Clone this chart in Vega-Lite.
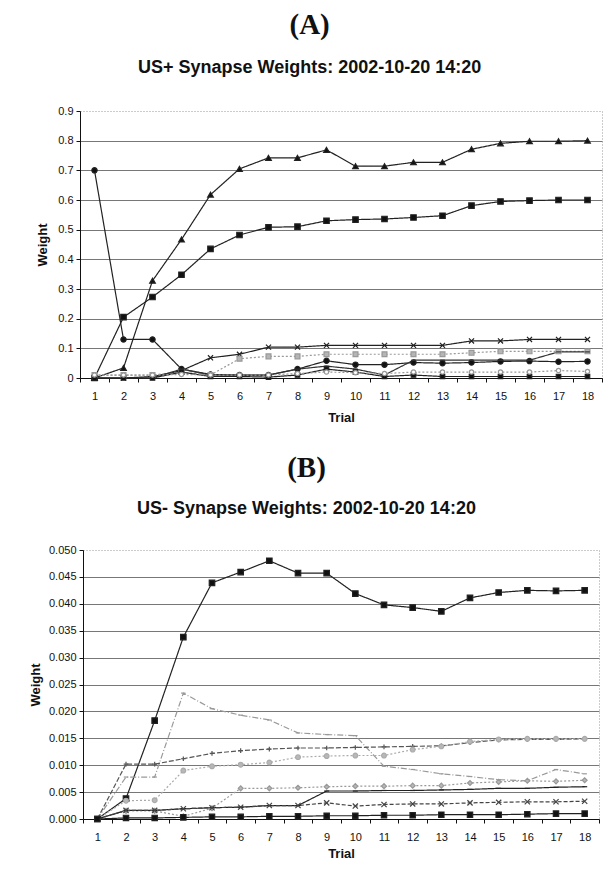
{
  "$schema": "https://vega.github.io/schema/vega-lite/v6.json",
  "background": "white",
  "padding": {"left": 28, "top": 10, "right": 0, "bottom": 0},
  "spacing": 28,
  "center": true,
  "bounds": "full",
  "resolve": {"scale": {"stroke": "independent", "strokeDash": "independent", "shape": "independent", "fill": "independent", "size": "independent"}},
  "config": {
    "font": "Liberation Sans",
    "view": {"stroke": "#999", "strokeDash": [1, 2], "strokeWidth": 1},
    "legend": {"disable": true},
    "axis": {
      "labelFont": "Liberation Sans", "labelFontSize": 11, "labelColor": "#111",
      "titleFont": "Liberation Sans", "titleFontSize": 13, "titleFontWeight": "bold", "titleColor": "#111",
      "domainColor": "#111", "tickColor": "#111", "tickSize": 4
    }
  },
  "datasets": {
    "a": [
      {"s":"tri","t":1,"w":0},{"s":"tri","t":2,"w":0.034},{"s":"tri","t":3,"w":0.328},{"s":"tri","t":4,"w":0.467},{"s":"tri","t":5,"w":0.618},{"s":"tri","t":6,"w":0.705},{"s":"tri","t":7,"w":0.742},{"s":"tri","t":8,"w":0.742},{"s":"tri","t":9,"w":0.769},{"s":"tri","t":10,"w":0.714},{"s":"tri","t":11,"w":0.714},{"s":"tri","t":12,"w":0.727},{"s":"tri","t":13,"w":0.727},{"s":"tri","t":14,"w":0.771},{"s":"tri","t":15,"w":0.791},{"s":"tri","t":16,"w":0.798},{"s":"tri","t":17,"w":0.798},{"s":"tri","t":18,"w":0.8},
      {"s":"sq","t":1,"w":0},{"s":"sq","t":2,"w":0.205},{"s":"sq","t":3,"w":0.273},{"s":"sq","t":4,"w":0.348},{"s":"sq","t":5,"w":0.435},{"s":"sq","t":6,"w":0.482},{"s":"sq","t":7,"w":0.508},{"s":"sq","t":8,"w":0.51},{"s":"sq","t":9,"w":0.53},{"s":"sq","t":10,"w":0.534},{"s":"sq","t":11,"w":0.536},{"s":"sq","t":12,"w":0.541},{"s":"sq","t":13,"w":0.547},{"s":"sq","t":14,"w":0.581},{"s":"sq","t":15,"w":0.595},{"s":"sq","t":16,"w":0.598},{"s":"sq","t":17,"w":0.6},{"s":"sq","t":18,"w":0.6},
      {"s":"dot","t":1,"w":0.7},{"s":"dot","t":2,"w":0.13},{"s":"dot","t":3,"w":0.13},{"s":"dot","t":4,"w":0.03},{"s":"dot","t":5,"w":0.012},{"s":"dot","t":6,"w":0.01},{"s":"dot","t":7,"w":0.01},{"s":"dot","t":8,"w":0.03},{"s":"dot","t":9,"w":0.058},{"s":"dot","t":10,"w":0.045},{"s":"dot","t":11,"w":0.045},{"s":"dot","t":12,"w":0.052},{"s":"dot","t":13,"w":0.05},{"s":"dot","t":14,"w":0.052},{"s":"dot","t":15,"w":0.056},{"s":"dot","t":16,"w":0.057},{"s":"dot","t":17,"w":0.055},{"s":"dot","t":18,"w":0.056},
      {"s":"x","t":1,"w":0},{"s":"x","t":2,"w":0},{"s":"x","t":3,"w":0.005},{"s":"x","t":4,"w":0.025},{"s":"x","t":5,"w":0.068},{"s":"x","t":6,"w":0.08},{"s":"x","t":7,"w":0.104},{"s":"x","t":8,"w":0.104},{"s":"x","t":9,"w":0.11},{"s":"x","t":10,"w":0.11},{"s":"x","t":11,"w":0.11},{"s":"x","t":12,"w":0.11},{"s":"x","t":13,"w":0.11},{"s":"x","t":14,"w":0.125},{"s":"x","t":15,"w":0.125},{"s":"x","t":16,"w":0.13},{"s":"x","t":17,"w":0.13},{"s":"x","t":18,"w":0.13},
      {"s":"hsq","t":1,"w":0.01},{"s":"hsq","t":2,"w":0.01},{"s":"hsq","t":3,"w":0.01},{"s":"hsq","t":4,"w":0.02},{"s":"hsq","t":5,"w":0.01},{"s":"hsq","t":6,"w":0.065},{"s":"hsq","t":7,"w":0.073},{"s":"hsq","t":8,"w":0.073},{"s":"hsq","t":9,"w":0.08},{"s":"hsq","t":10,"w":0.08},{"s":"hsq","t":11,"w":0.08},{"s":"hsq","t":12,"w":0.08},{"s":"hsq","t":13,"w":0.08},{"s":"hsq","t":14,"w":0.085},{"s":"hsq","t":15,"w":0.09},{"s":"hsq","t":16,"w":0.09},{"s":"hsq","t":17,"w":0.09},{"s":"hsq","t":18,"w":0.09},
      {"s":"rise","t":1,"w":0},{"s":"rise","t":2,"w":0},{"s":"rise","t":3,"w":0},{"s":"rise","t":4,"w":0.03},{"s":"rise","t":5,"w":0.01},{"s":"rise","t":6,"w":0.01},{"s":"rise","t":7,"w":0.01},{"s":"rise","t":8,"w":0.03},{"s":"rise","t":9,"w":0.04},{"s":"rise","t":10,"w":0.03},{"s":"rise","t":11,"w":0.01},{"s":"rise","t":12,"w":0.06},{"s":"rise","t":13,"w":0.06},{"s":"rise","t":14,"w":0.06},{"s":"rise","t":15,"w":0.06},{"s":"rise","t":16,"w":0.06},{"s":"rise","t":17,"w":0.088},{"s":"rise","t":18,"w":0.088},
      {"s":"bot","t":1,"w":0},{"s":"bot","t":2,"w":0},{"s":"bot","t":3,"w":0},{"s":"bot","t":4,"w":0.02},{"s":"bot","t":5,"w":0.005},{"s":"bot","t":6,"w":0.005},{"s":"bot","t":7,"w":0.003},{"s":"bot","t":8,"w":0.01},{"s":"bot","t":9,"w":0.03},{"s":"bot","t":10,"w":0.02},{"s":"bot","t":11,"w":0.005},{"s":"bot","t":12,"w":0.01},{"s":"bot","t":13,"w":0.005},{"s":"bot","t":14,"w":0.005},{"s":"bot","t":15,"w":0.005},{"s":"bot","t":16,"w":0.005},{"s":"bot","t":17,"w":0.005},{"s":"bot","t":18,"w":0.005},
      {"s":"oc","t":1,"w":0.01},{"s":"oc","t":2,"w":0.01},{"s":"oc","t":3,"w":0.01},{"s":"oc","t":4,"w":0.012},{"s":"oc","t":5,"w":0.01},{"s":"oc","t":6,"w":0.01},{"s":"oc","t":7,"w":0.01},{"s":"oc","t":8,"w":0.015},{"s":"oc","t":9,"w":0.02},{"s":"oc","t":10,"w":0.018},{"s":"oc","t":11,"w":0.015},{"s":"oc","t":12,"w":0.02},{"s":"oc","t":13,"w":0.02},{"s":"oc","t":14,"w":0.02},{"s":"oc","t":15,"w":0.02},{"s":"oc","t":16,"w":0.02},{"s":"oc","t":17,"w":0.025},{"s":"oc","t":18,"w":0.022}
    ],
    "b": [
      {"s":"bsq","t":1,"w":0},{"s":"bsq","t":2,"w":0.0038},{"s":"bsq","t":3,"w":0.0183},{"s":"bsq","t":4,"w":0.0338},{"s":"bsq","t":5,"w":0.0439},{"s":"bsq","t":6,"w":0.0459},{"s":"bsq","t":7,"w":0.048},{"s":"bsq","t":8,"w":0.0457},{"s":"bsq","t":9,"w":0.0457},{"s":"bsq","t":10,"w":0.0419},{"s":"bsq","t":11,"w":0.0398},{"s":"bsq","t":12,"w":0.0393},{"s":"bsq","t":13,"w":0.0386},{"s":"bsq","t":14,"w":0.0411},{"s":"bsq","t":15,"w":0.0421},{"s":"bsq","t":16,"w":0.0425},{"s":"bsq","t":17,"w":0.0424},{"s":"bsq","t":18,"w":0.0425},
      {"s":"dd","t":1,"w":0},{"s":"dd","t":2,"w":0.0078},{"s":"dd","t":3,"w":0.0078},{"s":"dd","t":4,"w":0.0234},{"s":"dd","t":5,"w":0.0205},{"s":"dd","t":6,"w":0.0193},{"s":"dd","t":7,"w":0.0184},{"s":"dd","t":8,"w":0.016},{"s":"dd","t":9,"w":0.0157},{"s":"dd","t":10,"w":0.0155},{"s":"dd","t":11,"w":0.0098},{"s":"dd","t":12,"w":0.0092},{"s":"dd","t":13,"w":0.0084},{"s":"dd","t":14,"w":0.0079},{"s":"dd","t":15,"w":0.0073},{"s":"dd","t":16,"w":0.0071},{"s":"dd","t":17,"w":0.0092},{"s":"dd","t":18,"w":0.0084},
      {"s":"plus","t":1,"w":0},{"s":"plus","t":2,"w":0.0102},{"s":"plus","t":3,"w":0.0102},{"s":"plus","t":4,"w":0.0112},{"s":"plus","t":5,"w":0.0122},{"s":"plus","t":6,"w":0.0127},{"s":"plus","t":7,"w":0.013},{"s":"plus","t":8,"w":0.0132},{"s":"plus","t":9,"w":0.0132},{"s":"plus","t":10,"w":0.0133},{"s":"plus","t":11,"w":0.0134},{"s":"plus","t":12,"w":0.0135},{"s":"plus","t":13,"w":0.0136},{"s":"plus","t":14,"w":0.0142},{"s":"plus","t":15,"w":0.0147},{"s":"plus","t":16,"w":0.0148},{"s":"plus","t":17,"w":0.0148},{"s":"plus","t":18,"w":0.0149},
      {"s":"hc","t":1,"w":0},{"s":"hc","t":2,"w":0.0034},{"s":"hc","t":3,"w":0.0035},{"s":"hc","t":4,"w":0.009},{"s":"hc","t":5,"w":0.0098},{"s":"hc","t":6,"w":0.0101},{"s":"hc","t":7,"w":0.0105},{"s":"hc","t":8,"w":0.0115},{"s":"hc","t":9,"w":0.0117},{"s":"hc","t":10,"w":0.0118},{"s":"hc","t":11,"w":0.0118},{"s":"hc","t":12,"w":0.0129},{"s":"hc","t":13,"w":0.0135},{"s":"hc","t":14,"w":0.0144},{"s":"hc","t":15,"w":0.0148},{"s":"hc","t":16,"w":0.0149},{"s":"hc","t":17,"w":0.0149},{"s":"hc","t":18,"w":0.0149},
      {"s":"dia","t":1,"w":0},{"s":"dia","t":2,"w":0.0015},{"s":"dia","t":3,"w":0.0015},{"s":"dia","t":4,"w":0.0005},{"s":"dia","t":5,"w":0.002},{"s":"dia","t":6,"w":0.0057},{"s":"dia","t":7,"w":0.0057},{"s":"dia","t":8,"w":0.0058},{"s":"dia","t":9,"w":0.006},{"s":"dia","t":10,"w":0.0061},{"s":"dia","t":11,"w":0.0061},{"s":"dia","t":12,"w":0.0062},{"s":"dia","t":13,"w":0.0062},{"s":"dia","t":14,"w":0.0067},{"s":"dia","t":15,"w":0.0069},{"s":"dia","t":16,"w":0.0071},{"s":"dia","t":17,"w":0.007},{"s":"dia","t":18,"w":0.0072},
      {"s":"dash","t":1,"w":0},{"s":"dash","t":2,"w":0.0016},{"s":"dash","t":3,"w":0.0016},{"s":"dash","t":4,"w":0.0019},{"s":"dash","t":5,"w":0.0021},{"s":"dash","t":6,"w":0.0022},{"s":"dash","t":7,"w":0.0025},{"s":"dash","t":8,"w":0.0025},{"s":"dash","t":9,"w":0.0052},{"s":"dash","t":10,"w":0.0052},{"s":"dash","t":11,"w":0.0053},{"s":"dash","t":12,"w":0.0053},{"s":"dash","t":13,"w":0.0054},{"s":"dash","t":14,"w":0.0055},{"s":"dash","t":15,"w":0.0057},{"s":"dash","t":16,"w":0.0057},{"s":"dash","t":17,"w":0.0059},{"s":"dash","t":18,"w":0.006},
      {"s":"xs","t":1,"w":0},{"s":"xs","t":2,"w":0.0016},{"s":"xs","t":3,"w":0.0016},{"s":"xs","t":4,"w":0.0019},{"s":"xs","t":5,"w":0.0021},{"s":"xs","t":6,"w":0.0022},{"s":"xs","t":7,"w":0.0025},{"s":"xs","t":8,"w":0.0025},{"s":"xs","t":9,"w":0.003},{"s":"xs","t":10,"w":0.0024},{"s":"xs","t":11,"w":0.0027},{"s":"xs","t":12,"w":0.0028},{"s":"xs","t":13,"w":0.0028},{"s":"xs","t":14,"w":0.003},{"s":"xs","t":15,"w":0.0031},{"s":"xs","t":16,"w":0.0032},{"s":"xs","t":17,"w":0.0032},{"s":"xs","t":18,"w":0.0033},
      {"s":"bsm","t":1,"w":0},{"s":"bsm","t":2,"w":0.0002},{"s":"bsm","t":3,"w":0.0002},{"s":"bsm","t":4,"w":0.0003},{"s":"bsm","t":5,"w":0.0004},{"s":"bsm","t":6,"w":0.0004},{"s":"bsm","t":7,"w":0.0005},{"s":"bsm","t":8,"w":0.0005},{"s":"bsm","t":9,"w":0.0006},{"s":"bsm","t":10,"w":0.0006},{"s":"bsm","t":11,"w":0.0007},{"s":"bsm","t":12,"w":0.0007},{"s":"bsm","t":13,"w":0.0008},{"s":"bsm","t":14,"w":0.0008},{"s":"bsm","t":15,"w":0.0008},{"s":"bsm","t":16,"w":0.0009},{"s":"bsm","t":17,"w":0.001},{"s":"bsm","t":18,"w":0.001}
    ]
  },
  "vconcat": [
    {
      "title": {"text": "(A)", "subtitle": "US+ Synapse Weights: 2002-10-20 14:20", "font": "Liberation Serif", "fontSize": 29, "fontWeight": "bold", "color": "#111", "subtitleFont": "Liberation Sans", "subtitleFontSize": 18, "subtitleFontWeight": "bold", "subtitleColor": "#111", "subtitlePadding": 19, "offset": 28, "anchor": "middle", "frame": "bounds", "dx": -10},
      "width": 522,
      "height": 267,
      "data": {"name": "a"},
      "encoding": {
        "x": {"field": "t", "type": "ordinal", "scale": {"type": "band", "paddingInner": 0, "paddingOuter": 0}, "axis": {"title": "Trial", "labelAngle": 0, "tickBand": "extent", "grid": false, "labelPadding": 8, "titlePadding": 10}},
        "y": {"field": "w", "type": "quantitative", "scale": {"domain": [0, 0.9], "nice": false}, "axis": {"title": "Weight", "values": [0, 0.1, 0.2, 0.3, 0.4, 0.5, 0.6, 0.7, 0.8, 0.9], "format": "~g", "grid": true, "gridColor": "#777", "gridWidth": 1, "gridOpacity": {"condition": {"test": "datum.value >= 0.899", "value": 0}, "value": 1}, "labelPadding": 3, "titlePadding": 8}}
      },
      "layer": [
        {
          "mark": {"type": "line", "strokeWidth": 1.2},
          "encoding": {
            "detail": {"field": "s"},
            "stroke": {"field": "s", "type": "nominal", "scale": {"domain": ["tri","sq","dot","x","hsq","rise","bot","oc"], "range": ["#222","#222","#222","#222","#999","#333","#222","#999"]}, "legend": null},
            "strokeDash": {"field": "s", "type": "nominal", "scale": {"domain": ["tri","sq","dot","x","hsq","rise","bot","oc"], "range": [[1,0],[1,0],[1,0],[1,0],[2,2],[1,0],[1,0],[2,2]]}, "legend": null}
          }
        },
        {
          "mark": {"type": "point", "filled": false, "strokeWidth": 1.2, "opacity": 1},
          "encoding": {
            "shape": {"field": "s", "type": "nominal", "scale": {"domain": ["tri","sq","dot","x","hsq","rise","bot","oc"], "range": ["triangle-up","square","circle","M-1,-1L1,1M-1,1L1,-1","square","M-1,0L1,0","square","circle"]}, "legend": null},
            "fill": {"field": "s", "type": "nominal", "scale": {"domain": ["tri","sq","dot","x","hsq","rise","bot","oc"], "range": ["#111","#111","#111","transparent","#b5b5b5","transparent","#111","white"]}, "legend": null},
            "stroke": {"field": "s", "type": "nominal", "scale": {"domain": ["tri","sq","dot","x","hsq","rise","bot","oc"], "range": ["#111","#111","#111","#111","#999","#111","#111","#222"]}, "legend": null},
            "size": {"field": "s", "type": "nominal", "scale": {"domain": ["tri","sq","dot","x","hsq","rise","bot","oc"], "range": [32,18,32,34,44,34,22,80]}, "legend": null}
          }
        }
      ]
    },
    {
      "title": {"text": "(B)", "subtitle": "US- Synapse Weights: 2002-10-20 14:20", "font": "Liberation Serif", "fontSize": 29, "fontWeight": "bold", "color": "#111", "subtitleFont": "Liberation Sans", "subtitleFontSize": 18, "subtitleFontWeight": "bold", "subtitleColor": "#111", "subtitlePadding": 17, "offset": 26, "anchor": "middle", "frame": "bounds", "dx": -8},
      "width": 516,
      "height": 269,
      "data": {"name": "b"},
      "encoding": {
        "x": {"field": "t", "type": "ordinal", "scale": {"type": "band", "paddingInner": 0, "paddingOuter": 0}, "axis": {"title": "Trial", "labelAngle": 0, "tickBand": "extent", "grid": false, "labelPadding": 8, "titlePadding": 5}},
        "y": {"field": "w", "type": "quantitative", "scale": {"domain": [0, 0.05], "nice": false}, "axis": {"title": "Weight", "values": [0, 0.005, 0.01, 0.015, 0.02, 0.025, 0.03, 0.035, 0.04, 0.045, 0.05], "format": ".3f", "grid": true, "gridColor": "#777", "gridWidth": 1, "gridOpacity": {"condition": {"test": "datum.value >= 0.0499", "value": 0}, "value": 1}, "labelPadding": 3, "titlePadding": 6}}
      },
      "layer": [
        {
          "mark": {"type": "line", "strokeWidth": 1.2},
          "encoding": {
            "detail": {"field": "s"},
            "stroke": {"field": "s", "type": "nominal", "scale": {"domain": ["dd","plus","hc","dia","dash","xs","bsm","bsq"], "range": ["#999","#555","#aaa","#999","#222","#444","#222","#222"]}, "legend": null},
            "strokeDash": {"field": "s", "type": "nominal", "scale": {"domain": ["dd","plus","hc","dia","dash","xs","bsm","bsq"], "range": [[6,2,1,2],[5,2],[2,2],[2,2],[1,0],[4,2],[1,0],[1,0]]}, "legend": null}
          }
        },
        {
          "mark": {"type": "point", "filled": false, "strokeWidth": 1.2, "opacity": 1},
          "encoding": {
            "shape": {"field": "s", "type": "nominal", "scale": {"domain": ["dd","plus","hc","dia","dash","xs","bsm","bsq"], "range": ["M-1,0L1,0","M-1,0L1,0M0,-1L0,1","circle","diamond","M-1,0L1,0","M-1,-1L1,1M-1,1L1,-1","square","square"]}, "legend": null},
            "fill": {"field": "s", "type": "nominal", "scale": {"domain": ["dd","plus","hc","dia","dash","xs","bsm","bsq"], "range": ["transparent","transparent","#b8b8b8","#b8b8b8","transparent","transparent","#111","#111"]}, "legend": null},
            "stroke": {"field": "s", "type": "nominal", "scale": {"domain": ["dd","plus","hc","dia","dash","xs","bsm","bsq"], "range": ["#999","#555","#888","#888","#111","#111","#111","#111"]}, "legend": null},
            "size": {"field": "s", "type": "nominal", "scale": {"domain": ["dd","plus","hc","dia","dash","xs","bsm","bsq"], "range": [20,30,50,30,30,40,64,64]}, "legend": null}
          }
        }
      ]
    }
  ]
}
